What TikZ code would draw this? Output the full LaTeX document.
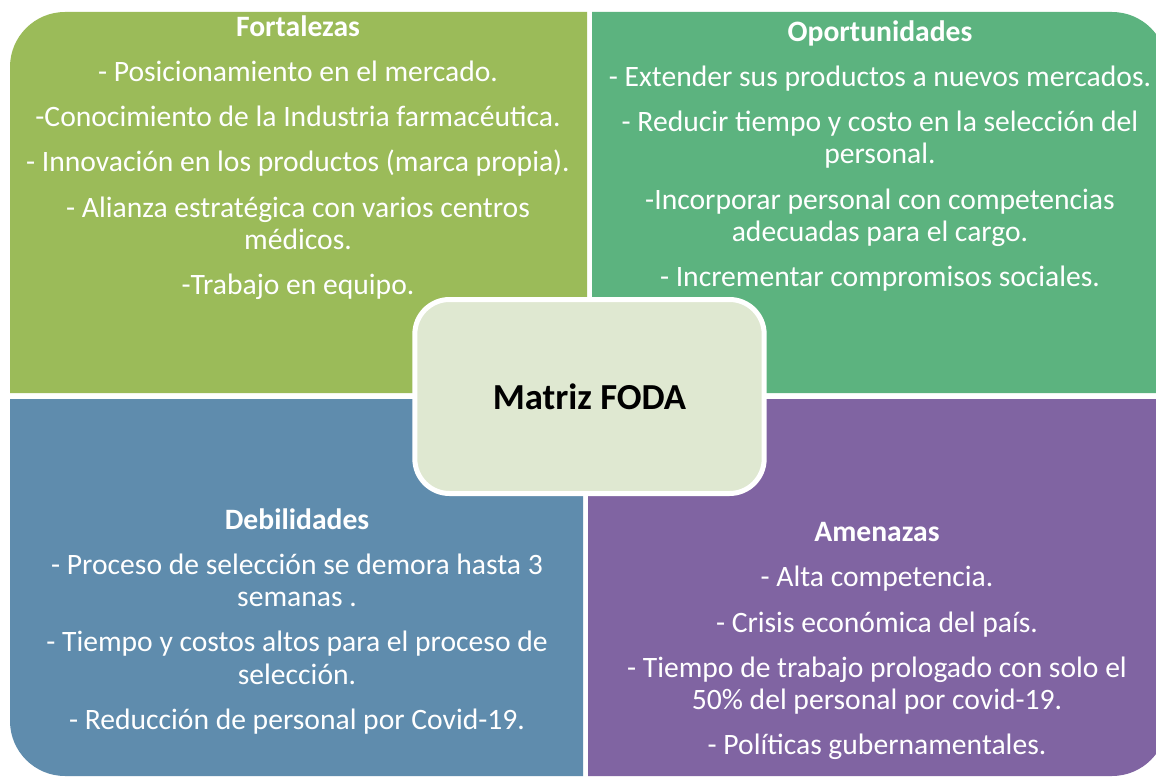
\documentclass[tikz,border=0pt]{standalone}
\usepackage{fontspec}
\setmainfont{Carlito}
\usepackage{xcolor}
\usepackage{tikz}
\usetikzlibrary{positioning}
\definecolor{fodaGreen}{RGB}{155,187,89}
\definecolor{fodaTeal}{RGB}{92,179,127}
\definecolor{fodaBlue}{RGB}{95,140,173}
\definecolor{fodaPurple}{RGB}{128,100,162}
\definecolor{fodaLight}{RGB}{223,232,209}

\begin{document}
\begin{tikzpicture}[x=0.75pt, y=-0.75pt,
txt/.style={text=white, align=center, anchor=north, inner sep=0pt,
font=\fontsize{22.2}{24.2}\selectfont},
center/.style={rectangle, rounded corners=26pt, draw=white, line width=3.75pt,
fill=fodaLight, minimum width=262pt, minimum height=145.5pt,
font=\fontsize{27.5}{32}\selectfont\bfseries}]
\useasboundingbox (0,0) rectangle (1156,777);
\clip (0,0) rectangle (1156,777);
\fill[white] (0,0) rectangle (1156,777);
% cuadrantes
\fill[fodaGreen] (10,393) -- (10,67) arc[start angle=180, end angle=270, radius=55]
    -- (587,12) -- (587,393) -- cycle;
\fill[fodaTeal] (592,12) -- (1112,12) arc[start angle=270, end angle=360, radius=55]
    -- (1167,393) -- (592,393) -- cycle;
\fill[fodaBlue] (10,399) -- (583,399) -- (583,776) -- (65,776)
    arc[start angle=90, end angle=180, radius=55] -- cycle;
\fill[fodaPurple] (588,399) -- (1167,399) -- (1167,721)
    arc[start angle=0, end angle=90, radius=55] -- (588,776) -- cycle;
% textos
\node[txt] (fort) at (298,15)
    {\textbf{Fortalezas}\\[9.75pt]
    - Posicionamiento en el mercado.\\[9.75pt]
    -Conocimiento de la Industria farmacéutica.\\[9.75pt]
    - Innovación en los productos (marca propia).\\[9.75pt]
    - Alianza estratégica con varios centros\\
    médicos.\\[9.75pt]
    -Trabajo en equipo.};
\node[txt] (opor) at (880,20)
    {\textbf{Oportunidades}\\[9.75pt]
    - Extender sus productos a nuevos mercados.\\[9.75pt]
    - Reducir tiempo y costo en la selección del\\
    personal.\\[9.75pt]
    -Incorporar personal con competencias\\
    adecuadas para el cargo.\\[9.75pt]
    - Incrementar compromisos sociales.};
\node[txt] (debil) at (297,508)
    {\textbf{Debilidades}\\[9.75pt]
    - Proceso de selección se demora hasta 3\\
    semanas .\\[9.75pt]
    - Tiempo y costos altos para el proceso de\\
    selección.\\[9.75pt]
    - Reducción de personal por Covid-19.};
\node[txt] (amen) at (877,522)
    {\textbf{Amenazas}\\[9.75pt]
    - Alta competencia.\\[9.75pt]
    - Crisis económica del país.\\[9.75pt]
    - Tiempo de trabajo prologado con solo el\\
    50\% del personal por covid-19.\\[9.75pt]
    - Políticas gubernamentales.};
\node[center] (foda) at (589.5,396.5) {Matriz FODA};
\end{tikzpicture}
\end{document}
